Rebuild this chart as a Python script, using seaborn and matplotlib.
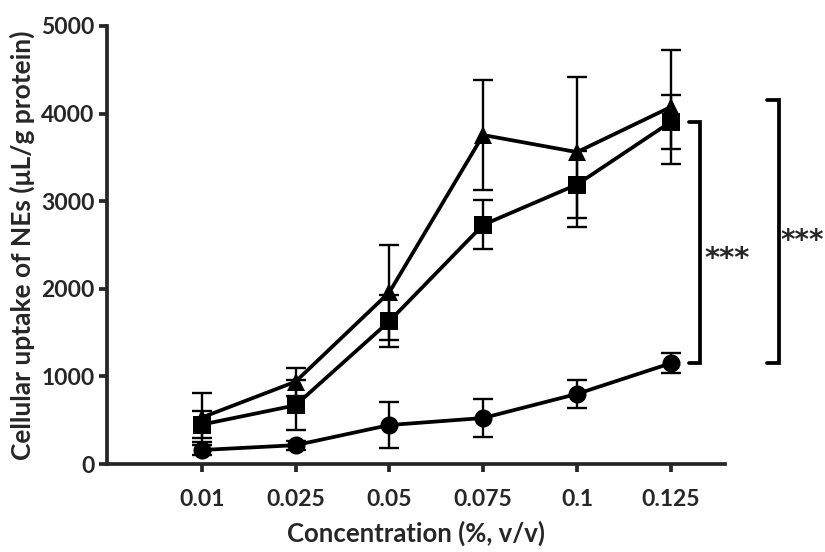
import matplotlib
matplotlib.use("Agg")
import matplotlib.pyplot as plt
import numpy as np
import pandas as pd
import seaborn as sns

# concentrations (%, v/v) shown as evenly spaced categories
concentrations = ["0.01", "0.025", "0.05", "0.075", "0.1", "0.125"]

# mean uptake and SD for each formulation
circle_mean = [160, 215, 445, 525, 800, 1150]
circle_sd = [60, 50, 265, 220, 155, 115]
square_mean = [450, 670, 1630, 2730, 3190, 3905]
square_sd = [150, 285, 295, 280, 380, 310]
triangle_mean = [530, 940, 1960, 3755, 3560, 4075]
triangle_sd = [280, 160, 540, 630, 860, 650]

# significance brackets: (x position, low, high, label)
bracket_x = [5.31, 6.15]
bracket_low = [1150, 1150]
bracket_high = [3905, 4160]
bracket_text = ["***", "***"]

sns.set_theme(style="ticks")
plt.rcParams["font.family"] = ["Lato", "DejaVu Sans"]
plt.rcParams["font.weight"] = "bold"

pos = np.arange(len(concentrations))
frames = []
for name, mean in [("circle", circle_mean), ("square", square_mean), ("triangle", triangle_mean)]:
    frames.append(pd.DataFrame({"pos": pos, "uptake": mean, "series": name}))
df = pd.concat(frames, ignore_index=True)

fig = plt.figure(figsize=(8.25, 5.52), dpi=100)
ax = fig.add_axes([0.1297, 0.1594, 0.879 - 0.1297, 0.953 - 0.1594])

sds = {"circle": circle_sd, "square": square_sd, "triangle": triangle_sd}
means = {"circle": circle_mean, "square": square_mean, "triangle": triangle_mean}
for name in ["circle", "square", "triangle"]:
    ax.errorbar(pos, means[name], yerr=sds[name], fmt="none", ecolor="black",
                elinewidth=1.7, capsize=7, capthick=1.7, zorder=2)

sns.lineplot(data=df, x="pos", y="uptake", style="series", hue="series",
             palette={"circle": "black", "square": "black", "triangle": "black"},
             markers={"circle": "o", "square": "s", "triangle": "^"},
             dashes=False, markersize=13, linewidth=2.7, markeredgewidth=0,
             legend=False, ax=ax, zorder=3)

for bx, lo, hi in zip(bracket_x, bracket_low, bracket_high):
    ax.plot([bx - 0.12, bx, bx, bx - 0.12], [hi, hi, lo, lo], color="black",
            linewidth=2.7, clip_on=False, solid_joinstyle="miter")
ax.text(5.6, 2340, bracket_text[0], ha="center", va="center", fontsize=21,
        fontweight="bold", family=["DejaVu Sans"], clip_on=False)
ax.text(6.17, 2540, bracket_text[1], ha="left", va="center", fontsize=20,
        fontweight="bold", family=["DejaVu Sans"], clip_on=False)

ax.set_xlim(-1.01, 5.58)
ax.set_ylim(0, 5000)
ax.set_xticks(pos, labels=concentrations)
ax.set_yticks([0, 1000, 2000, 3000, 4000, 5000])
ax.tick_params(axis="both", direction="out", length=6, width=2.7, labelsize=16.5, pad=3)
ax.tick_params(axis="x", pad=12)
for lbl in ax.get_xticklabels() + ax.get_yticklabels():
    lbl.set_fontweight("bold")
for side in ["left", "bottom"]:
    ax.spines[side].set_linewidth(2.7)
sns.despine(ax=ax)

ax.set_xlabel("Concentration (%, v/v)", fontsize=18.5, fontweight="bold", labelpad=8)
ax.set_ylabel("Cellular uptake of NEs (μL/g protein)", fontsize=19, fontweight="bold", labelpad=4)

fig.savefig("out.png", dpi=100)
